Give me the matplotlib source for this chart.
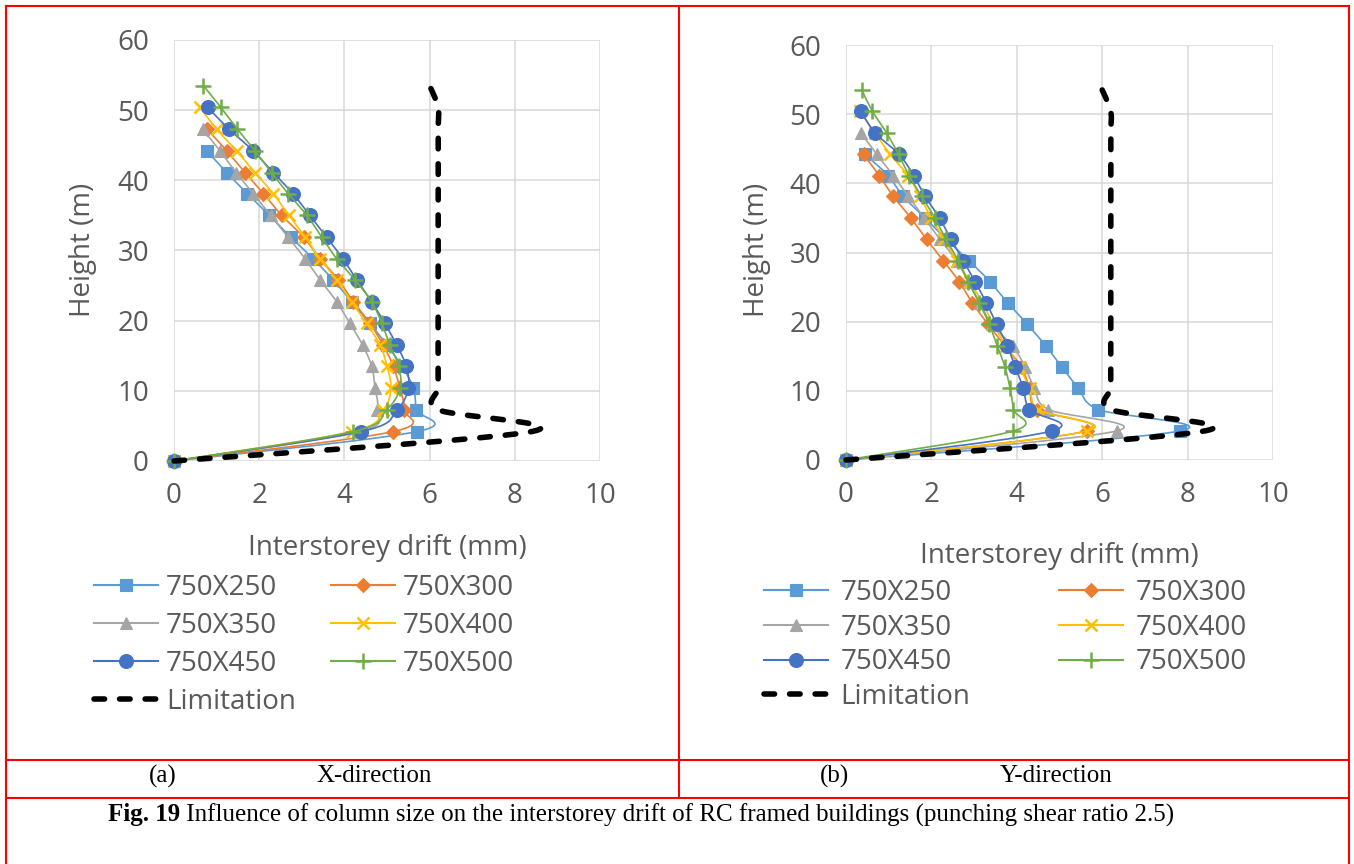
import numpy as np
import matplotlib
matplotlib.use("Agg")
import matplotlib.pyplot as plt
from matplotlib.lines import Line2D

plt.rcParams['font.family'] = ['Open Sans', 'DejaVu Sans']

# storey levels (m), shared by every series
storey_h = [0, 4.2, 7.3, 10.4, 13.5, 16.5, 19.6, 22.7, 25.8, 28.8,
            31.9, 35.0, 38.1, 41.1, 44.2, 47.3, 50.4, 53.5]

series_names = ['750X250', '750X300', '750X350', '750X400', '750X450', '750X500']

# X-direction drift (mm), from ground upwards
x_250 = [0, 5.71, 5.68, 5.62, 5.35, 5.0, 4.6, 4.17, 3.74, 3.27, 2.74, 2.24, 1.72, 1.24, 0.77]
x_300 = [0, 5.15, 5.40, 5.30, 5.15, 4.91, 4.6, 4.21, 3.86, 3.43, 3.04, 2.53, 2.10, 1.67, 1.24, 0.77]
x_350 = [0, 4.35, 4.76, 4.72, 4.64, 4.43, 4.13, 3.82, 3.43, 3.08, 2.68, 2.27, 1.86, 1.46, 1.08, 0.67]
x_400 = [0, 4.17, 4.91, 5.09, 5.0, 4.84, 4.52, 4.17, 3.82, 3.43, 3.08, 2.70, 2.33, 1.90, 1.47, 1.0, 0.61]
x_450 = [0, 4.4, 5.23, 5.50, 5.45, 5.23, 4.95, 4.64, 4.29, 3.97, 3.58, 3.19, 2.79, 2.33, 1.86, 1.29, 0.79]
x_500 = [0, 4.21, 4.99, 5.31, 5.27, 5.07, 4.88, 4.64, 4.25, 3.82, 3.47, 3.12, 2.68, 2.29, 1.90, 1.49, 1.10, 0.69]

# Y-direction drift (mm)
y_250 = [0, 7.82, 5.91, 5.44, 5.05, 4.68, 4.25, 3.79, 3.37, 2.88, 2.35, 1.85, 1.34, 0.99, 0.44]
y_300 = [0, 5.64, 4.47, 4.3, 4.1, 3.72, 3.33, 2.96, 2.65, 2.28, 1.89, 1.52, 1.11, 0.78, 0.41]
y_350 = [0, 6.34, 4.74, 4.41, 4.19, 3.90, 3.41, 3.14, 2.86, 2.59, 2.20, 1.83, 1.46, 1.11, 0.72, 0.35]
y_400 = [0, 5.64, 4.5, 4.3, 4.05, 3.75, 3.45, 3.2, 2.9, 2.6, 2.3, 2.0, 1.73, 1.46, 1.03, 0.68, 0.32]
y_450 = [0, 4.82, 4.29, 4.15, 3.96, 3.78, 3.53, 3.29, 3.02, 2.75, 2.46, 2.19, 1.85, 1.59, 1.24, 0.68, 0.35]
y_500 = [0, 3.92, 3.92, 3.84, 3.72, 3.54, 3.36, 3.12, 2.86, 2.63, 2.34, 2.08, 1.77, 1.48, 1.23, 0.95, 0.62, 0.37]

# code limit (mm)
limit = [0, 8.4, 6.2, 6.2, 6.2, 6.2, 6.2, 6.2, 6.2, 6.2, 6.2, 6.2, 6.2, 6.2, 6.2, 6.2, 6.2, 6.0]

colors = ['#5B9BD5', '#ED7D31', '#A5A5A5', '#FFC000', '#4472C4', '#70AD47']
markers = ['s', 'D', '^', 'x', 'o', '+']
msizes = [9, 7.5, 9, 9, 10, 11]
TXT = '#595959'
FS = 20


def smooth(x, y, n=24):
    # excel style smoothed line (catmull-rom as bezier)
    p = np.column_stack([x, y]).astype(float)
    out = [p[0]]
    t = np.linspace(0, 1, n)[1:, None]
    for i in range(len(p) - 1):
        p0 = p[i - 1] if i > 0 else p[i]
        p1 = p[i]
        p2 = p[i + 1]
        p3 = p[i + 2] if i + 2 < len(p) else p[i + 1]
        c1 = p1 + (p2 - p0) / 6
        c2 = p2 - (p3 - p1) / 6
        seg = (1 - t)**3 * p1 + 3 * (1 - t)**2 * t * c1 + 3 * (1 - t) * t**2 * c2 + t**3 * p2
        out.extend(seg)
    out = np.array(out)
    return out[:, 0], out[:, 1]


def draw_panel(ax, data):
    for k, xs in enumerate(data):
        hs = storey_h[:len(xs)]
        sx, sy = smooth(xs, hs)
        ax.plot(sx, sy, color=colors[k], lw=1.2, zorder=3 + k, clip_on=False)
        mew = 1.8 if markers[k] in ('x', '+') else 0.8
        ax.plot(xs, hs, ls='none', marker=markers[k], ms=msizes[k], color=colors[k],
                mec=colors[k], mew=mew, zorder=3 + k, clip_on=False)
    sx, sy = smooth(limit, storey_h[:len(limit)])
    ax.plot(sx, sy, color='black', lw=4, ls=(0, (1.9, 2.7)), dash_capstyle='round',
            zorder=20, clip_on=False)
    ax.set_xlim(0, 10)
    ax.set_ylim(0, 60)
    ax.set_xticks(range(0, 11, 2))
    ax.set_yticks(range(0, 61, 10))
    for s in ax.spines.values():
        s.set_visible(False)
    ax.grid(True, color='#D9D9D9', lw=1.1)
    ax.set_axisbelow(True)
    ax.tick_params(length=0, labelsize=FS, colors=TXT)
    ax.tick_params(axis='x', pad=15)
    ax.tick_params(axis='y', pad=18)
    ax.set_xlabel('Interstorey drift (mm)', fontsize=FS, color=TXT)
    ax.set_ylabel('Height (m)', fontsize=FS, color=TXT)
    ax.xaxis.label.set_va('center')
    ax.yaxis.label.set_va('center')


def legend_handles():
    hl = []
    for k in range(6):
        mew = 1.8 if markers[k] in ('x', '+') else 0.8
        hl.append(Line2D([], [], color=colors[k], lw=1.5, marker=markers[k], ms=msizes[k],
                         mec=colors[k], mew=mew))
    lim = Line2D([], [], color='black', lw=4, ls=(0, (1.9, 2.7)), dash_capstyle='round')
    # matplotlib fills columns first, so reorder to get excel row order
    order = [0, 2, 4, 6, 1, 3, 5]
    allh = hl + [lim]
    alll = series_names + ['Limitation']
    return [allh[i] for i in order], [alll[i] for i in order]


fig = plt.figure(figsize=(13.54, 8.64), dpi=100)
W, H = 1354.0, 864.0
ax1 = fig.add_axes([174 / W, 1 - 461 / H, 426 / W, 421 / H])
ax2 = fig.add_axes([846 / W, 1 - 460 / H, 427 / W, 415 / H])

draw_panel(ax1, [x_250, x_300, x_350, x_400, x_450, x_500])
draw_panel(ax2, [y_250, y_300, y_350, y_400, y_450, y_500])

ax1.xaxis.set_label_coords(0.5, (461 - 548) / 421)
ax1.yaxis.set_label_coords((83 - 174) / 426, (461 - 250) / 421)
ax2.xaxis.set_label_coords(0.5, (460 - 556) / 415)
ax2.yaxis.set_label_coords((757 - 846) / 427, (460 - 250) / 415)

h, l = legend_handles()
fig.legend(h, l, ncol=2, loc='upper left', bbox_to_anchor=(94 / W, 1 - 574 / H),
           frameon=False, fontsize=FS, handlelength=2.3, handletextpad=0.3,
           columnspacing=1.25, labelspacing=0.36, borderpad=0, borderaxespad=0,
           labelcolor=TXT)
fig.legend(h, l, ncol=2, loc='upper left', bbox_to_anchor=(764 / W, 1 - 579 / H),
           frameon=False, fontsize=FS, handlelength=2.3, handletextpad=0.45,
           columnspacing=3.2, labelspacing=0.24, borderpad=0, borderaxespad=0,
           labelcolor=TXT)

# red table frame
red = '#FF0000'
frame = [((6, 6), (1349, 6)), ((6, 6), (6, 864)), ((1349, 6), (1349, 864)),
         ((679, 6), (679, 798)), ((6, 760), (1349, 760)), ((6, 798), (1349, 798))]
for (xa, ya), (xb, yb) in frame:
    fig.add_artist(Line2D([xa / W, xb / W], [1 - ya / H, 1 - yb / H], color=red, lw=1.5))

serif = 'Liberation Serif'
CS = 18
fig.text(149 / W, 1 - 776 / H, '(a)', fontsize=CS, family=serif, va='center')
fig.text(316 / W, 1 - 776 / H, 'X-direction', fontsize=CS, family=serif, va='center')
fig.text(820 / W, 1 - 776 / H, '(b)', fontsize=CS, family=serif, va='center')
fig.text(1000 / W, 1 - 776 / H, 'Y-direction', fontsize=CS, family=serif, va='center')

t1 = fig.text(108 / W, 1 - 815 / H, 'Fig. 19', fontsize=CS, family=serif,
              fontweight='bold', va='center')
ax1.annotate(' Influence of column size on the interstorey drift of RC framed buildings '
             '(punching shear ratio 2.5)', xy=(1, 0.5), xycoords=t1, va='center',
             fontsize=CS, family=serif, annotation_clip=False)

fig.savefig('out.png', dpi=100)
